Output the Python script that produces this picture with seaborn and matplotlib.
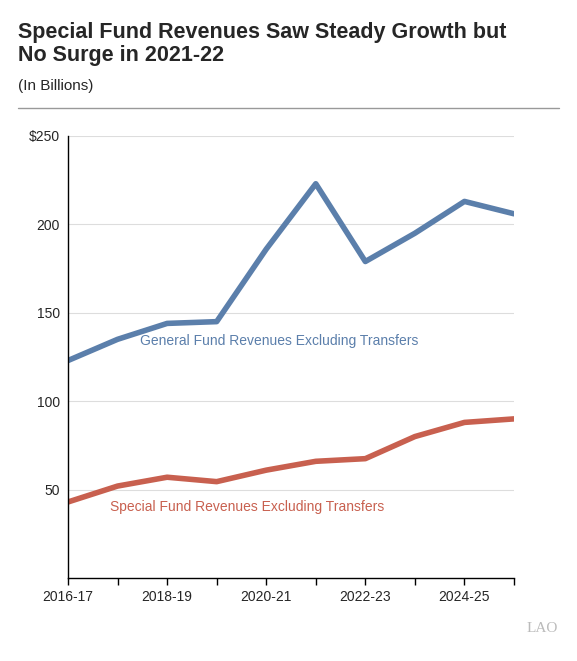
import matplotlib
matplotlib.use("Agg")
import matplotlib.pyplot as plt
import seaborn as sns
import pandas as pd

years = ["2016-17","2017-18","2018-19","2019-20","2020-21","2021-22","2022-23","2023-24","2024-25","2025-26"]
general = [123,135,144,145,186,223,179,195,213,206]
special = [43,52,57,54.5,61,66,67.5,80,88,90]

sns.set_style("white")
plt.rcParams['font.family'] = ['Liberation Sans', 'DejaVu Sans']

fig = plt.figure(figsize=(5.77,6.61), dpi=100)
ax = fig.add_axes([68/577, 1-578/661, (514-68)/577, (578-136)/661])
x = list(range(len(years)))
df = pd.DataFrame({"x": x*2, "v": general+special,
                   "s": ["g"]*len(x)+["s"]*len(x)})
sns.lineplot(data=df, x="x", y="v", hue="s", palette={"g":"#5b7fab","s":"#c8604f"},
             linewidth=4, legend=False, ax=ax)
ax.set_xlim(0, 9); ax.set_ylim(0, 250)
ax.set_yticks([50,100,150,200,250])
ax.set_yticklabels(["50","100","150","200","$250"], fontsize=10)
ax.set_xticks(x)
ax.set_xticklabels([y if i%2==0 else "" for i,y in enumerate(years)], fontsize=10)
ax.tick_params(axis='x', length=5, width=1, color='black', direction='out', bottom=True)
ax.tick_params(axis='y', length=0, pad=6)
ax.grid(axis='y', color='#dddddd', linewidth=0.8)
ax.set_xlabel(""); ax.set_ylabel("")
for s in ["top","right"]: ax.spines[s].set_visible(False)
for s in ["left","bottom"]:
    ax.spines[s].set_color("black"); ax.spines[s].set_linewidth(1)
ax.text(1.45, 132, "General Fund Revenues Excluding Transfers", color="#5b7fab", fontsize=10)
ax.text(0.85, 38, "Special Fund Revenues Excluding Transfers", color="#c8604f", fontsize=10)

fig.text(18/577, 1-44/661, "Special Fund Revenues Saw Steady Growth but\nNo Surge in 2021-22",
         fontsize=15.5, fontweight='bold', va='center', linespacing=1.1)
fig.text(18/577, 1-86/661, "(In Billions)", fontsize=11, va='center')
fig.add_artist(plt.Line2D([18/577, 559/577], [1-108/661]*2, color='#999999', linewidth=1))
fig.text(558/577, 1-632/661, "LAO", fontsize=11, color='#bbbbbb', ha='right', family=['Liberation Serif'])
fig.savefig("out.png", dpi=100)
